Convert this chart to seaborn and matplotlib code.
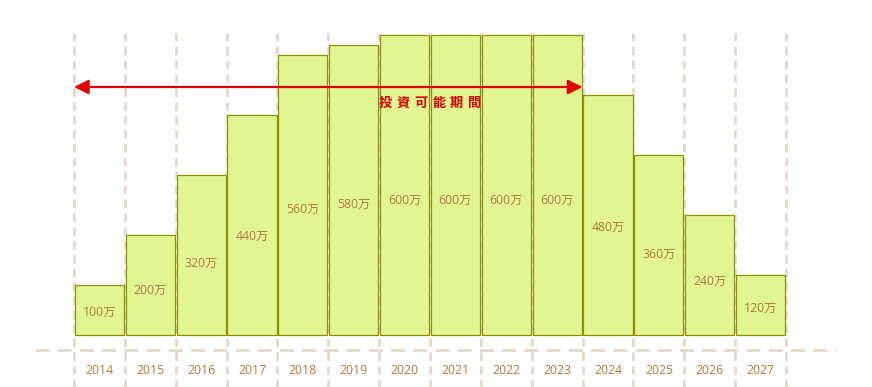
import matplotlib
matplotlib.use("Agg")
import matplotlib.pyplot as plt
import seaborn as sns
import pandas as pd

# data
years = ["2014", "2015", "2016", "2017", "2018", "2019", "2020",
         "2021", "2022", "2023", "2024", "2025", "2026", "2027"]
amounts = [100, 200, 320, 440, 560, 580, 600, 600, 600, 600, 480, 360, 240, 120]
unit = "万"
period_label = "投資可能期間"
period_start = 0   # index of 2014
period_end = 9     # index of 2023

bar_face = "#e2f593"
bar_edge = "#8f9000"
text_col = "#ae7a40"
grid_col = "#e6d7cb"
arrow_col = "#dd0000"

sns.set_theme(style="white")
plt.rcParams["font.family"] = ["Open Sans", "Noto Sans CJK JP", "DejaVu Sans"]

df = pd.DataFrame({"year": years, "amount": amounts})

fig = plt.figure(figsize=(8.72, 3.87), dpi=100)
ax = fig.add_axes([0, 0, 1, 1])

sns.barplot(data=df, x="year", y="amount", color=bar_face, saturation=1,
            width=0.965, edgecolor=bar_edge, linewidth=0.9, ax=ax, zorder=3)

n = len(years)
# vertical dashed separators
for i in range(n + 1):
    ax.plot([i - 0.5, i - 0.5], [-110, 604], color=grid_col, lw=2,
            ls=(0, (3, 2)), zorder=1)
# horizontal dashed baseline
ax.plot([-1.27, 14.48], [-30, -30], color=grid_col, lw=2,
        ls=(0, (5, 3)), zorder=1)

# value labels
for i, v in enumerate(amounts):
    ax.text(i, v * 0.45, f"{v}{unit}", ha="center", va="center",
            fontsize=8.8, color=text_col, zorder=4)
# year labels
for i, y in enumerate(years):
    ax.text(i, -72, y, ha="center", va="center", fontsize=8.8,
            color=text_col, zorder=4)

# investment period arrow
ax.annotate("", xy=(period_start - 0.5, 496), xytext=(period_end + 0.5, 496),
            arrowprops=dict(arrowstyle="<|-|>", color=arrow_col, lw=1.6,
                            mutation_scale=22, shrinkA=0, shrinkB=0),
            zorder=5)
mid = (period_start + period_end) / 2 + 2.0
for k, ch in enumerate(period_label):
    ax.annotate(ch, xy=(mid, 464), xytext=((k - (len(period_label) - 1) / 2) * 12.8, 0),
                textcoords="offset points", ha="center", va="center",
                fontsize=9.5, fontweight="bold", color=arrow_col,
                family=["Noto Sans CJK JP"], zorder=5)

ax.set_xlim(-1.954, 15.19)
ax.set_ylim(-104, 670)
ax.axis("off")

fig.savefig("out.png", dpi=100)
